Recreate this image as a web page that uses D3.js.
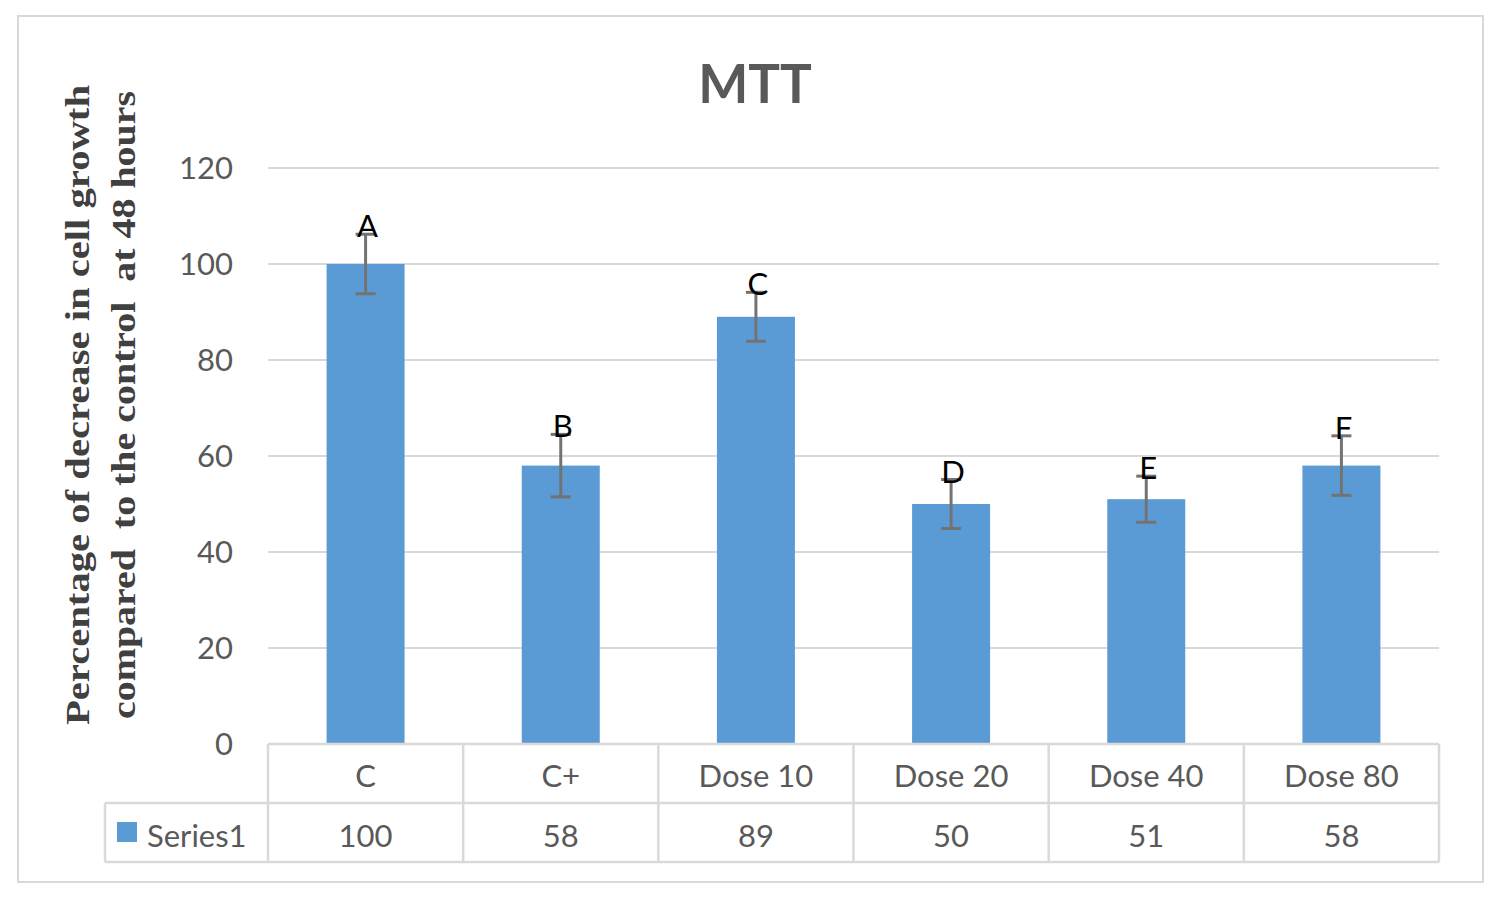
<!DOCTYPE html>
<html><head><meta charset="utf-8">
<script src="https://cdnjs.cloudflare.com/ajax/libs/d3/7.8.5/d3.min.js"></script>
<style>body{margin:0;background:#fff}</style>
</head><body>
<script>
const categories = ["C", "C+", "Dose 10", "Dose 20", "Dose 40", "Dose 80"];
const values = [100, 58, 89, 50, 51, 58];
const errors = [6.2, 6.5, 5.1, 5.1, 4.8, 6.2];
const letters = ["A", "B", "C", "D", "E", "F"];
const yTicks = [0, 20, 40, 60, 80, 100, 120];
const seriesName = "Series1";
const title = "MTT";
const yLabel1 = "Percentage of decrease in cell growth";
const yLabel2 = "compared  to the control  at 48 hours";

const W = 1499, H = 903;
const svg = d3.select("body").append("svg").attr("width", W).attr("height", H);
const sans = "Lato, 'Open Sans', sans-serif";
const gray = "#595959", grid = "#d9d9d9", blue = "#5b9bd5";
const fs = 31;

svg.append("rect").attr("x", 18).attr("y", 16).attr("width", 1465).attr("height", 866)
  .attr("fill", "#fff").attr("stroke", grid).attr("stroke-width", 2);

const plotL = 268, plotR = 1439, y0 = 744, yTop = 168;
const x = d3.scaleBand().domain(categories).range([plotL, plotR]).paddingInner(0).paddingOuter(0);
const y = d3.scaleLinear().domain([0, 120]).range([y0, yTop]);

// gridlines
svg.append("g").selectAll("line").data(yTicks.filter(t => t > 0)).join("line")
  .attr("x1", plotL).attr("x2", plotR).attr("y1", d => y(d)).attr("y2", d => y(d))
  .attr("stroke", grid).attr("stroke-width", 2);

// y axis labels via d3 axis
const yAxis = d3.axisLeft(y).tickValues(yTicks).tickSize(0).tickPadding(0);
const ga = svg.append("g").attr("transform", `translate(233,0)`).call(yAxis);
ga.select(".domain").remove();
ga.selectAll("text").attr("font-family", sans).attr("font-size", fs).attr("fill", gray).attr("dy", "0.35em");

// bars
const bw = 78;
svg.append("g").selectAll("rect").data(values).join("rect")
  .attr("x", (d, i) => x(categories[i]) + x.bandwidth() / 2 - bw / 2)
  .attr("width", bw)
  .attr("y", d => y(d)).attr("height", d => y0 - y(d)).attr("fill", blue);

// error bars
const eg = svg.append("g").attr("stroke", "#737373").attr("stroke-width", 3);
values.forEach((v, i) => {
  const cx = x(categories[i]) + x.bandwidth() / 2;
  const t = y(v + errors[i]), b = y(v - errors[i]);
  eg.append("line").attr("x1", cx).attr("x2", cx).attr("y1", t).attr("y2", b);
  eg.append("line").attr("x1", cx - 10).attr("x2", cx + 10).attr("y1", t).attr("y2", t);
  eg.append("line").attr("x1", cx - 10).attr("x2", cx + 10).attr("y1", b).attr("y2", b);
});

// letters
svg.append("g").selectAll("text").data(letters).join("text")
  .attr("x", (d, i) => x(categories[i]) + x.bandwidth() / 2 + 2)
  .attr("y", (d, i) => y(values[i] + errors[i]) + 3)
  .attr("text-anchor", "middle").attr("font-family", sans).attr("font-size", 31)
  .attr("fill", "#000").text(d => d);

// title
svg.append("text").attr("x", 755).attr("y", 103).attr("text-anchor", "middle")
  .attr("font-family", sans).attr("font-weight", "bold").attr("font-size", 53)
  .attr("fill", gray).text(title);

// y label
const yl = svg.append("g").attr("transform", "translate(0,405) rotate(-90)");
yl.append("text").attr("x", -320).attr("y", 89)
  .attr("textLength", 640).attr("lengthAdjust", "spacingAndGlyphs")
  .attr("font-family", "'Liberation Serif', serif").attr("font-weight", "bold").attr("font-size", 33)
  .attr("fill", "#404040").text(yLabel1);
yl.append("text").attr("x", -314).attr("y", 135)
  .attr("textLength", 628).attr("lengthAdjust", "spacingAndGlyphs")
  .attr("font-family", "'Liberation Serif', serif").attr("font-weight", "bold").attr("font-size", 33)
  .attr("fill", "#404040").attr("xml:space", "preserve").style("white-space", "pre").text(yLabel2);

// data table
const tl = svg.append("g").attr("stroke", grid).attr("stroke-width", 2.5).attr("fill", "none");
const r1 = 744, r2 = 803, r3 = 862, legL = 105;
tl.append("line").attr("x1", plotL).attr("x2", plotR).attr("y1", r1).attr("y2", r1);
tl.append("line").attr("x1", legL).attr("x2", plotR).attr("y1", r2).attr("y2", r2);
tl.append("line").attr("x1", legL).attr("x2", plotR).attr("y1", r3).attr("y2", r3);
tl.append("line").attr("x1", legL).attr("x2", legL).attr("y1", r2).attr("y2", r3);
const cols = categories.map(c => x(c)).concat([plotR]);
tl.selectAll(null).data(cols).join("line")
  .attr("x1", d => d).attr("x2", d => d).attr("y1", r1).attr("y2", r3);

svg.append("g").selectAll("text").data(categories).join("text")
  .attr("x", d => x(d) + x.bandwidth() / 2).attr("y", 787)
  .attr("text-anchor", "middle").attr("font-family", sans).attr("font-size", fs)
  .attr("fill", gray).text(d => d);
svg.append("g").selectAll("text").data(values).join("text")
  .attr("x", (d, i) => x(categories[i]) + x.bandwidth() / 2).attr("y", 847)
  .attr("text-anchor", "middle").attr("font-family", sans).attr("font-size", fs)
  .attr("fill", gray).text(d => d);

svg.append("rect").attr("x", 117).attr("y", 822).attr("width", 20).attr("height", 20).attr("fill", blue);
svg.append("text").attr("x", 147).attr("y", 847).attr("font-family", sans).attr("font-size", fs)
  .attr("fill", gray).text(seriesName);
</script>
</body></html>
